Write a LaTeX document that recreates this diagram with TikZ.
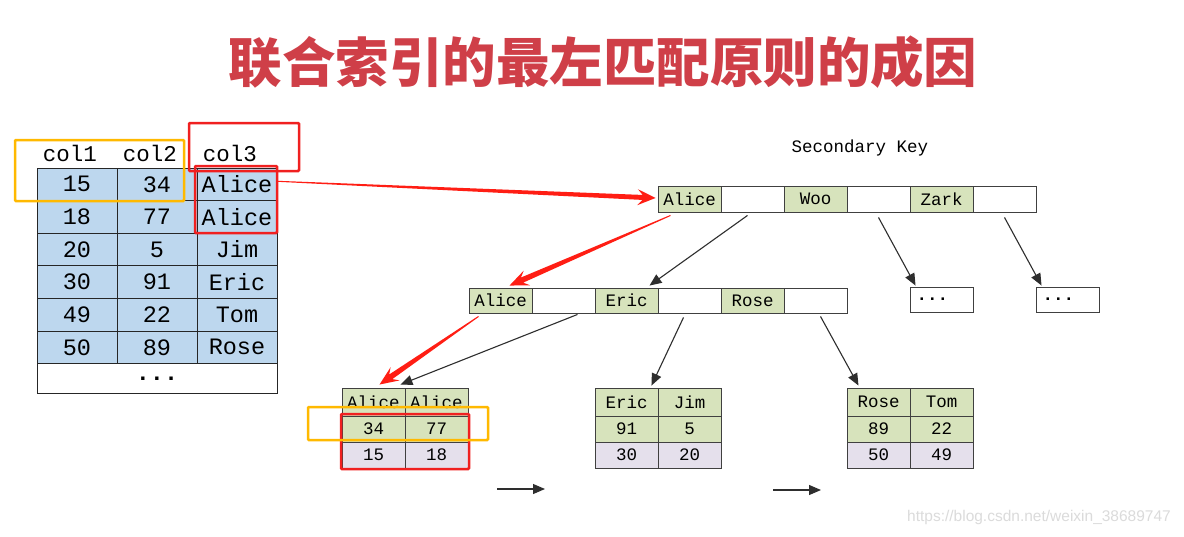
\documentclass[tikz,border=0pt]{standalone}
\usepackage{fontspec}
\setmainfont{Liberation Sans}
\newfontfamily\cjk{Noto Sans CJK SC}
\newfontfamily\mono{Liberation Mono}
\usetikzlibrary{calc,arrows.meta}
\definecolor{tblue}{HTML}{BDD7EE}
\definecolor{tgreen}{HTML}{D7E3BC}
\definecolor{tlav}{HTML}{E5E0EC}
\definecolor{ared}{HTML}{FF1E14}
\definecolor{hyellow}{HTML}{FFB900}
\definecolor{hred}{HTML}{F02020}
\definecolor{ttl}{HTML}{CF3F48}
\newcommand\tarrow[6]{%
  \coordinate (tah) at ($(#2)!#5!(#1)$);
  \coordinate (tab) at ($(#2)!0.72*#5!(#1)$);
  \fill[ared] ($(#1)!#3!90:(#2)$) -- ($(tab)!#4!90:(#2)$) -- ($(tah)!#6!90:(#2)$)
    -- (#2) -- ($(tah)!#6!-90:(#2)$) -- ($(tab)!#4!-90:(#2)$) -- ($(#1)!#3!-90:(#2)$) -- cycle;}
\begin{document}
\begin{tikzpicture}[x=1pt,y=-1pt,
  tcell/.style={draw=black!85,line width=1pt,fill=tblue,minimum width=80pt,minimum height=32.6pt,inner sep=0pt,font=\mono\fontsize{23.5}{23.5}\selectfont},
  kcell/.style={draw=black!75,line width=0.9pt,minimum width=63pt,minimum height=26pt,inner sep=0pt,font=\mono\fontsize{17.5}{17.5}\selectfont},
  key/.style={kcell,fill=tgreen},
  ptr/.style={kcell,fill=white},
  leafc/.style={draw=black!75,line width=0.9pt,minimum width=63pt,inner sep=0pt,font=\mono\fontsize{17.5}{17.5}\selectfont},
  blk/.style={-{Triangle[length=12pt,width=10pt]},draw=black!82,line width=1.1pt},
  hl/.style={draw=#1,line width=2.5pt,rounded corners=1pt},
  hdr/.style={font=\mono\fontsize{22.5}{22.5}\selectfont,inner sep=0pt}]
\useasboundingbox (0,0) rectangle (1184,536);
\fill[white] (0,0) rectangle (1184,536);
% title
\node[text=ttl,font=\cjk\bfseries\fontsize{53.5}{53.5}\selectfont,inner sep=0pt] (title) at (603,62) {联合索引的最左匹配原则的成因};
% left table
\node[hdr] (h1) at (70,153) {col1};
\node[hdr] (h2) at (150,153) {col2};
\node[hdr] (h3) at (230,153) {col3};
\foreach \a/\b/\c [count=\i] in {15/34/Alice,18/77/Alice,20/5/Jim,30/91/Eric,49/22/Tom,50/89/Rose}{
  \node[tcell] (r\i a) at (77,{184.3+32.6*(\i-1)}) {\a};
  \node[tcell] (r\i b) at (157,{184.3+32.6*(\i-1)}) {\b};
  \node[tcell] (r\i c) at (237,{184.3+32.6*(\i-1)}) {\c};
}
\node[tcell,fill=white,minimum width=240pt,minimum height=29.4pt] (rdots) at (157,378.3) {\textbf{...}};
% highlights on left table
\draw[hl=hyellow] (15,140) rectangle (184,201);
\draw[hl=hred] (189,123) rectangle (299,171);
\draw[hl=hred] (195,166) rectangle (277,233);
% secondary key root
\node[font=\mono\fontsize{17.5}{17.5}\selectfont] (sk) at (860,148) {Secondary Key};
\node[key] (ta1) at (689.5,199) {Alice};
\node[ptr] (tp1) at (752.5,199) {};
\node[key] (ta2) at (815.5,199) {Woo};
\node[ptr] (tp2) at (878.5,199) {};
\node[key] (ta3) at (941.5,199) {Zark};
\node[ptr] (tp3) at (1004.5,199) {};
% middle level
\node[key,minimum height=25pt] (ma1) at (500.5,300.5) {Alice};
\node[ptr,minimum height=25pt] (mp1) at (563.5,300.5) {};
\node[key,minimum height=25pt] (me) at (626.5,300.5) {Eric};
\node[ptr,minimum height=25pt] (mp2) at (689.5,300.5) {};
\node[key,minimum height=25pt] (mr) at (752.5,300.5) {Rose};
\node[ptr,minimum height=25pt] (mp3) at (815.5,300.5) {};
\node[ptr,minimum height=25pt,text width=50pt,align=left] (d1) at (941.5,299.5) {\textbf{...}};
\node[ptr,minimum height=25pt,text width=50pt,align=left] (d2) at (1067.5,299.5) {\textbf{...}};
% leaves
\foreach \n/\x/\p/\q/\r/\s/\u/\v in {1/373.5/Alice/Alice/34/77/15/18, 2/626.5/Eric/Jim/91/5/30/20, 3/878.5/Rose/Tom/89/22/50/49}{
  \node[leafc,fill=tgreen,minimum height=28pt] (l\n a) at (\x,402) {\p};
  \node[leafc,fill=tgreen,minimum height=28pt] (l\n b) at (\x+63,402) {\q};
  \node[leafc,fill=tgreen,minimum height=26pt] (l\n c) at (\x,429) {\r};
  \node[leafc,fill=tgreen,minimum height=26pt] (l\n d) at (\x+63,429) {\s};
  \node[leafc,fill=tlav,minimum height=26pt] (l\n e) at (\x,455) {\u};
  \node[leafc,fill=tlav,minimum height=26pt] (l\n f) at (\x+63,455) {\v};
}
\draw[hl=hred] (341,414) rectangle (469,469);
\draw[hl=hyellow] (308,407) rectangle (488,440);
% black arrows
\draw[blk] ([xshift=-5pt,yshift=-3pt]tp1.south) -- ([xshift=23pt,yshift=2pt]me.north);
\draw[blk] ([yshift=-5pt]tp2.south) -- ([xshift=6pt,yshift=1pt]d1.north west);
\draw[blk] ([yshift=-5pt]tp3.south) -- ([xshift=6pt,yshift=1pt]d2.north west);
\draw[blk] ([xshift=14pt,yshift=-1pt]mp1.south) -- ([xshift=-5pt,yshift=3pt]l1a.north east);
\draw[blk] ([xshift=-6pt,yshift=-4pt]mp2.south) -- ([xshift=-7pt,yshift=2pt]l2a.north east);
\draw[blk] ([xshift=5pt,yshift=-3pt]mp3.south) -- ([xshift=-20pt,yshift=2pt]l3a.north);
\coordinate (s1) at (497,489); \coordinate (e1) at (545,489);
\coordinate (s2) at (773,490); \coordinate (e2) at (821,490);
\draw[blk] (s1) -- (e1);
\draw[blk] (s2) -- (e2);
% red arrows
\coordinate (ra1s) at ([yshift=3pt]r1c.east);
\coordinate (ra1e) at ([xshift=-2pt,yshift=1pt]ta1.west);
\tarrow{ra1s}{ra1e}{0.5pt}{2.5pt}{18pt}{8pt}
\coordinate (ra2s) at ([xshift=-19pt,yshift=-3pt]ta1.south);
\coordinate (ra2e) at ([xshift=9pt,yshift=2pt]ma1.north);
\tarrow{ra2s}{ra2e}{0.5pt}{2.8pt}{19pt}{8pt}
\coordinate (ra3s) at ([xshift=-22pt,yshift=-3pt]ma1.south);
\coordinate (ra3e) at ([xshift=6pt,yshift=3pt]l1a.north);
\tarrow{ra3s}{ra3e}{0.5pt}{2.8pt}{19pt}{8pt}
% watermark
\node[text=black!14,font=\fontsize{15.5}{15.5}\selectfont,inner sep=0pt] (wm) at (1039,517) {https://blog.csdn.net/weixin\_38689747};
\end{tikzpicture}
\end{document}
